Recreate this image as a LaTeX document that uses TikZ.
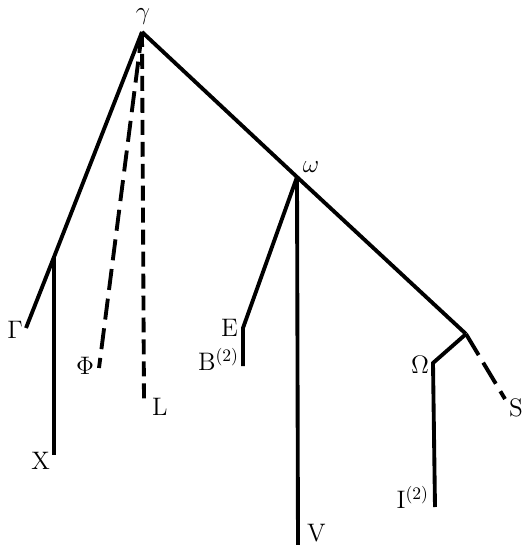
\documentclass[tikz,border=0pt]{standalone}
\usepackage{tikz}
\usetikzlibrary{positioning}
\begin{document}
\begin{tikzpicture}[x=0.02cm,y=-0.02cm,
  branch/.style={line width=2.2pt},
  faint/.style={line width=2.2pt,dash pattern=on 12pt off 5pt},
  lbl/.style={font=\Large,inner sep=1pt}]
  \useasboundingbox (0,0) rectangle (523,545);
  % forks and kinks
  \coordinate (gamma) at (142,32);
  \coordinate (omega) at (297,177);
  \coordinate (xfork) at (54,257);
  \coordinate (sfork) at (466,334);
  \coordinate (ekink) at (243,328);
  \coordinate (okink) at (433,363);
  % free ends
  \coordinate (gend) at (26,328);
  \coordinate (xend) at (54,455);
  \coordinate (fend) at (99,368);
  \coordinate (lend) at (144,402);
  \coordinate (bend) at (243,366);
  \coordinate (vend) at (298,545);
  \coordinate (iend) at (435,507);
  \coordinate (send) at (505,399);
  % labels
  \node[lbl] (lgamma) at (143,17) {$\gamma$};
  \node[lbl] (lomega) at (311,167) {$\omega$};
  \node[lbl,anchor=east] (lGamma) at (25,330) {$\Gamma$};
  \node[lbl,anchor=east] (lPhi) at (96,366) {$\Phi$};
  \node[lbl,anchor=west] (lL) at (150,407) {L};
  \node[lbl,anchor=east] (lX) at (52,461) {X};
  \node[lbl,anchor=east] (lE) at (240,328) {E};
  \node[lbl,anchor=east] (lB) at (241,359) {B$^{(2)}$};
  \node[lbl,anchor=east] (lOmega) at (431,365) {$\Omega$};
  \node[lbl,anchor=west] (lS) at (507,408) {S};
  \node[lbl,anchor=east] (lI) at (431,497) {I$^{(2)}$};
  \node[lbl,anchor=west] (lV) at (305,533) {V};
  % tree
  \draw[branch] (gamma) -- (xfork) -- (gend);
  \draw[branch] (xfork) -- (xend);
  \draw[faint] (gamma) -- (fend);
  \draw[faint,dash pattern=on 8.5pt off 4pt] (gamma) -- (lend);
  \draw[branch] (gamma) -- (omega) -- (sfork);
  \draw[branch] (omega) -- (ekink) -- (bend);
  \draw[branch] (omega) -- (vend);
  \draw[branch] (sfork) -- (okink) -- (iend);
  \draw[faint,dash pattern=on 14pt off 5pt] (sfork) -- (send);
\end{tikzpicture}
\end{document}
